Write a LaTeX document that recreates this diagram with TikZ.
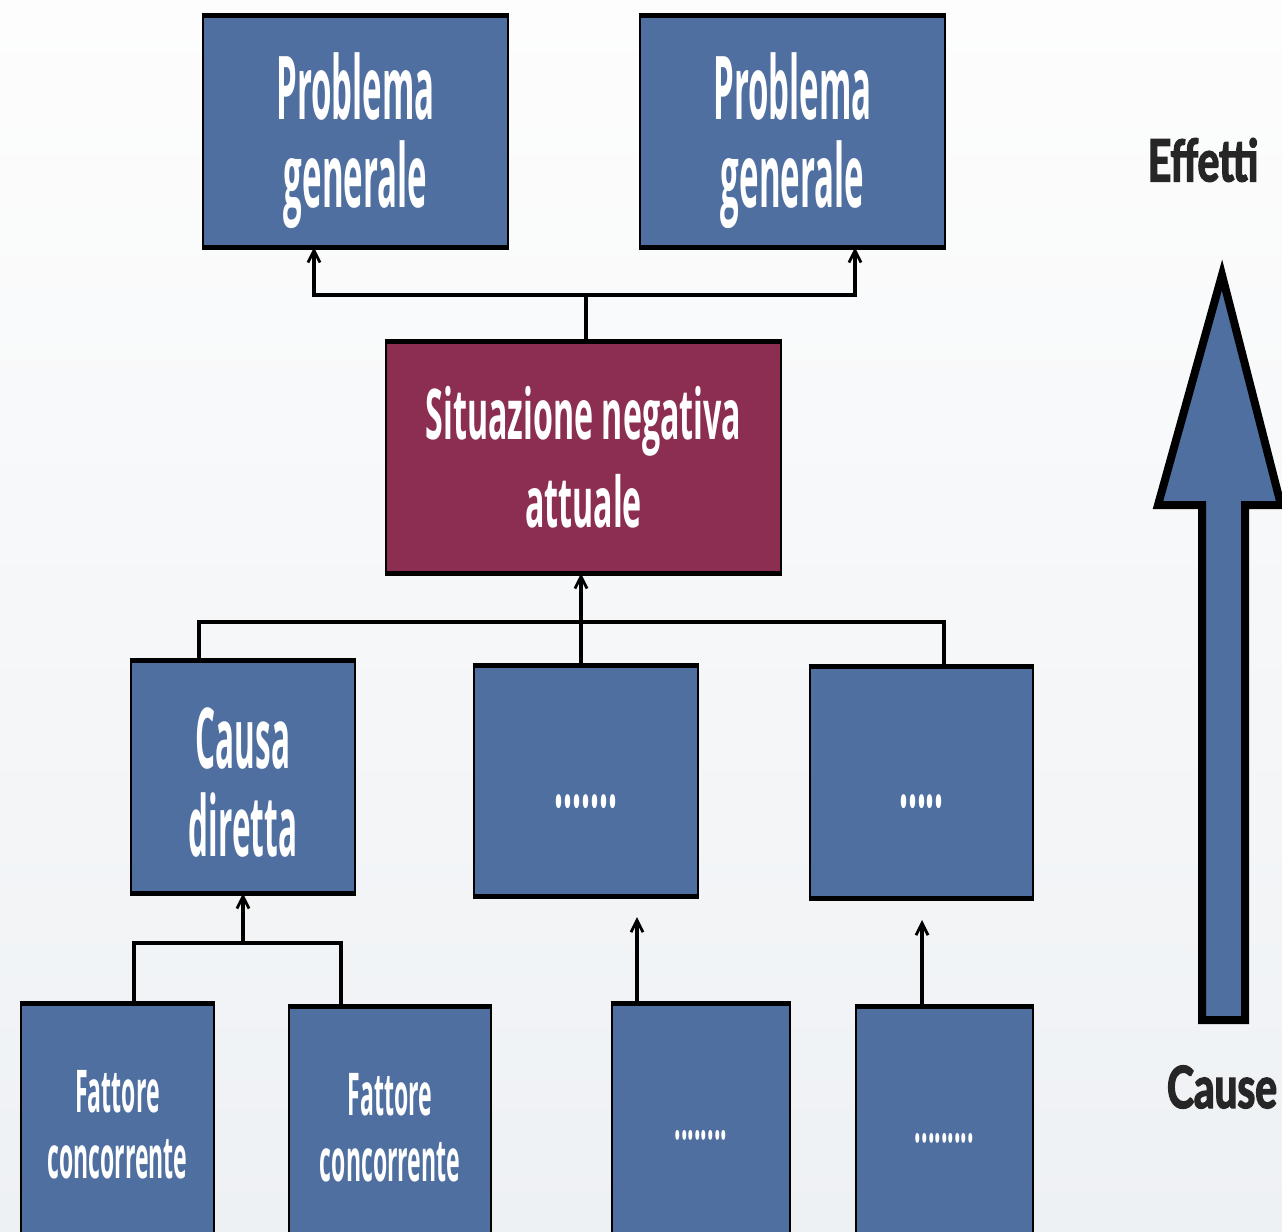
\documentclass[tikz,border=0pt]{standalone}
\usepackage{fontspec}
\newfontfamily\boxfont[FakeStretch=0.375]{Open Sans}
\newfontfamily\sitfont[FakeStretch=0.46]{Open Sans}
\newfontfamily\facfont[FakeStretch=0.39]{Open Sans}
\newfontfamily\lblfont[FakeStretch=0.70, BoldFeatures={FakeBold=2.5}]{Lato}
\usetikzlibrary{arrows.meta,calc}
\definecolor{boxblue}{HTML}{4F6FA0}
\definecolor{maroonbox}{HTML}{8C2D52}
\definecolor{bgtop}{HTML}{FDFDFD}
\definecolor{bgbot}{HTML}{EEF1F4}
\definecolor{lblcol}{HTML}{262626}
\begin{document}
\begin{tikzpicture}[x=0.5pt,y=-0.5pt,
  box/.style={draw=black, line width=1.4pt, fill=boxblue, inner sep=0pt, text=white, align=center},
  fs/.style 2 args={font=\boxfont\bfseries\fontsize{#1}{#2}\selectfont},
  fsit/.style 2 args={font=\sitfont\bfseries\fontsize{#1}{#2}\selectfont},
  ffac/.style 2 args={font=\facfont\bfseries\fontsize{#1}{#2}\selectfont},
  conn/.style={line width=1.8pt, draw=black},
  arr/.style={conn, -{Straight Barb[length=6pt,width=6pt,line width=1.4pt]}},
  lbltext/.style={text=lblcol, font=\lblfont\bfseries\fontsize{29}{32}\selectfont, inner sep=0pt}]
\shade[top color=bgtop, bottom color=bgbot] (0,0) rectangle (1282,1232);
\useasboundingbox (0,0) rectangle (1282,1232);

% top level
\node[box, fs={44}{44}, minimum width=152.5pt, minimum height=114.5pt] (pg1) at (355.5,131.5) {\rule{0pt}{43pt}Problema\\generale};
\node[box, fs={44}{44}, minimum width=152.5pt, minimum height=114.5pt] (pg2) at (792.5,131.5) {\rule{0pt}{43pt}Problema\\generale};
% middle
\node[box, fill=maroonbox, fsit={35}{44}, minimum width=197.5pt, minimum height=114.5pt] (sit) at (583.5,457.5) {Situazione negativa\\attuale};
% causes
\node[box, fs={42}{44}, minimum width=112pt, minimum height=115pt] (causa) at (243,777) {\rule{0pt}{36pt}Causa\\diretta};
\node[box, fs={42}{44}, minimum width=112pt, minimum height=114pt] (d2) at (586,781) {\rule{0pt}{27pt}.......};
\node[box, fs={42}{44}, minimum width=111.5pt, minimum height=114.5pt] (d3) at (921.5,782.5) {\rule{0pt}{26pt}.....};
% bottom
\node[box, ffac={29.5}{33}, minimum width=96.5pt, minimum height=120pt] (f1) at (117.5,1125) {Fattore\\concorrente};
\node[box, ffac={29.5}{33}, minimum width=101pt, minimum height=120pt] (f2) at (390,1128) {Fattore\\concorrente};
\node[box, ffac={29.5}{33}, minimum width=89pt, minimum height=130pt] (d4) at (701,1135) {........};
\node[box, ffac={29.5}{33}, minimum width=88.5pt, minimum height=130pt] (d5) at (944.5,1138) {.........};

% thicker top and bottom edges
\foreach \n in {pg1,pg2,sit,causa,d2,d3,f1,f2,d4,d5}{
  \draw[line width=2.6pt] (\n.north west) -- (\n.north east) (\n.south west) -- (\n.south east);
}

% connectors: situation -> general problems
\coordinate (j1) at (586,295);
\draw[conn] (sit.north -| j1) -- (j1);
\draw[arr] (j1) -| ($(pg1.south)+(-41.5,0)$);
\draw[arr] (j1) -| ($(pg2.south)+(62.5,0)$);

% causes -> situation
\coordinate (j2) at (581,622);
\draw[conn] ($(causa.north)+(-44,0)$) |- (j2) -| ($(d3.north)+(22.5,0)$);
\draw[arr] (d2.north -| j2) -- (sit.south -| j2);

% factors -> direct cause
\coordinate (j3) at (243,943);
\draw[conn] ($(f1.north)+(16.5,0)$) |- (j3) -| ($(f2.north)+(-49,0)$);
\draw[arr] (j3) -- (causa.south);

% bottom boxes -> arrows pointing up
\coordinate (t4) at (637,917);
\coordinate (t5) at (922,920);
\draw[arr] (d4.north -| t4) -- (t4);
\draw[arr] (d5.north -| t5) -- (t5);

% big arrow
\draw[line width=4pt, fill=boxblue, line join=miter]
  (1222,275) -- (1281,505) -- (1245,505) -- (1245,1020) -- (1202,1020) -- (1202,505) -- (1158,505) -- cycle;
\node[lbltext] (eff) at (1203,160) {Effetti};
\node[lbltext] (cau) at (1222,1087) {Cause};
\end{tikzpicture}
\end{document}
